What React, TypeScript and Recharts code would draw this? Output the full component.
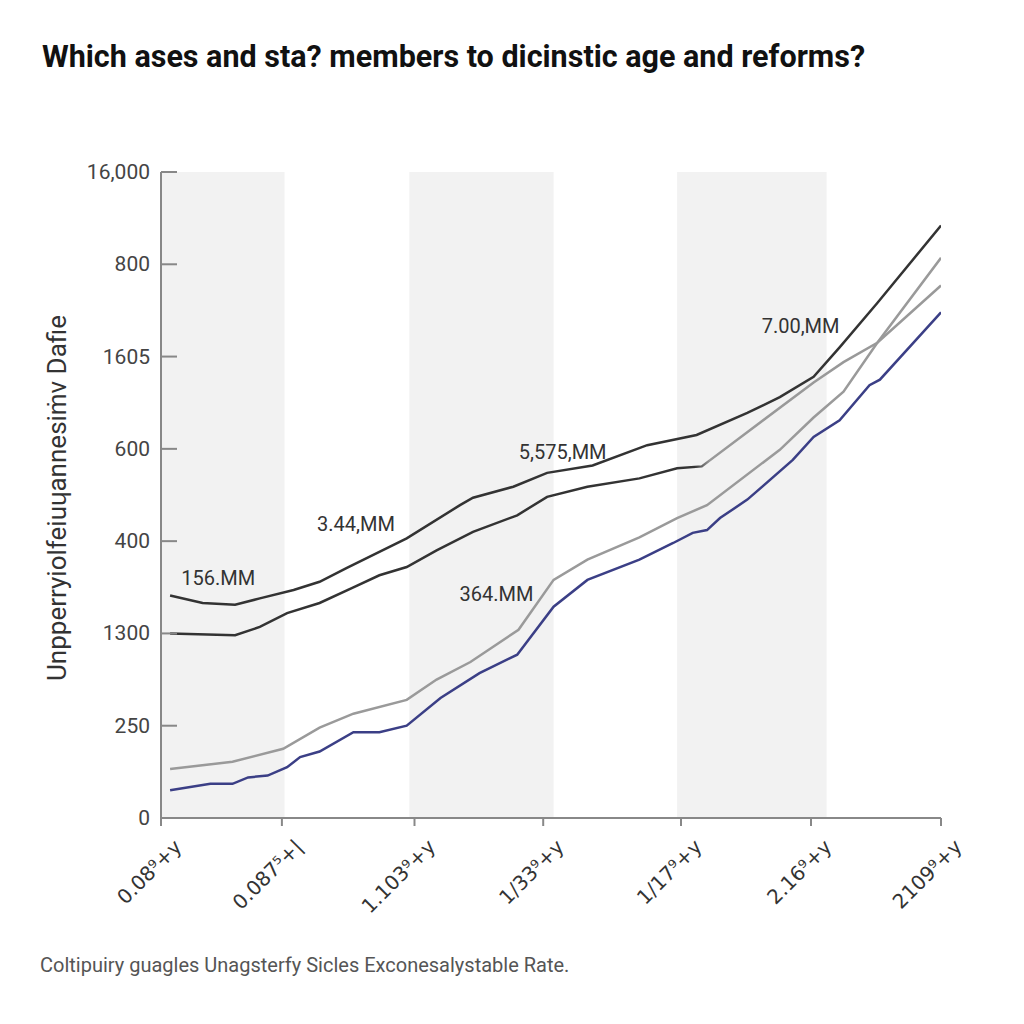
import React from "react";
import {
  Line,
  LineChart,
  ReferenceArea,
  ReferenceDot,
  XAxis,
  YAxis,
} from "recharts";

const TITLE = "Which ases and sta? members to dicinstic age and reforms?";
const Y_TITLE = "Unpperryiolfeiuɥannesiṁv Dafie";
const FOOTER = "Coltipuiry guagles Unagsterfy Sicles Exconesalystable Rate.";

// y ticks are evenly spaced; labels as printed
const Y_TICKS = [0, 1, 2, 3, 4, 5, 6, 7];
const Y_LABELS = ["0", "250", "1300", "400", "600", "1605", "800", "16,000"];

const X_TICKS = [0, 0.93, 1.95, 2.94, 4.0, 5.0, 6.0];
const X_LABELS = ["0.08⁹+y", "0.087⁵+|", "1.103⁹+y", "1/33⁹+y", "1/17⁹+y", "2.16⁹+y", "2109⁹+y"];

const BANDS = [
  [0, 0.95],
  [1.91, 3.02],
  [3.97, 5.12],
];

const A_X = [0.07, 0.32, 0.57, 0.76, 1.02, 1.22, 1.43, 1.89, 2.3, 2.4, 2.71, 2.97, 3.32, 3.74, 4.12, 4.51, 4.76, 5.02, 5.22, 5.51, 6.0];
const A_Y = [2.41, 2.33, 2.31, 2.38, 2.47, 2.56, 2.71, 3.03, 3.39, 3.47, 3.59, 3.74, 3.82, 4.04, 4.15, 4.39, 4.56, 4.78, 5.1, 5.58, 6.42];

const B_X = [0.07, 0.57, 0.76, 0.97, 1.22, 1.48, 1.68, 1.89, 2.12, 2.4, 2.74, 2.97, 3.28, 3.68, 3.97, 4.16, 5.02, 5.25, 5.51, 6.0];
const B_Y = [2.0, 1.98, 2.07, 2.22, 2.33, 2.5, 2.63, 2.72, 2.9, 3.1, 3.28, 3.48, 3.59, 3.68, 3.79, 3.81, 4.72, 4.94, 5.15, 5.77];

const C_X = [0.07, 0.55, 0.94, 1.22, 1.48, 1.89, 2.12, 2.38, 2.75, 3.02, 3.28, 3.68, 3.97, 4.2, 4.76, 5.02, 5.25, 5.51, 6.0];
const C_Y = [0.53, 0.61, 0.75, 0.98, 1.13, 1.28, 1.5, 1.69, 2.04, 2.58, 2.8, 3.04, 3.25, 3.39, 3.99, 4.34, 4.62, 5.15, 6.07];

const D_X = [0.07, 0.38, 0.55, 0.67, 0.82, 0.97, 1.07, 1.22, 1.48, 1.68, 1.89, 2.15, 2.45, 2.74, 3.02, 3.28, 3.68, 3.94, 4.09, 4.2, 4.3, 4.51, 4.86, 5.02, 5.22, 5.45, 5.53, 6.0];
const D_Y = [0.3, 0.37, 0.37, 0.44, 0.46, 0.55, 0.66, 0.72, 0.93, 0.93, 1.0, 1.3, 1.57, 1.77, 2.29, 2.58, 2.8, 2.98, 3.09, 3.12, 3.25, 3.45, 3.88, 4.13, 4.31, 4.69, 4.75, 5.48];

const NOTE_TEXT = ["156.MM", "3.44,MM", "5,575,MM", "364.MM", "7.00,MM"];
const NOTE_X = [0.44, 1.5, 3.09, 2.58, 4.92];
const NOTE_Y = [2.6, 3.19, 3.97, 2.43, 5.33];

const FONT = "Roboto, 'Liberation Sans', sans-serif";

function pts(xs: number[], ys: number[]) {
  return xs.map((x, i) => ({ x, y: ys[i] }));
}

function YTick(props: any) {
  const { x, y, payload } = props;
  return (
    <g>
      <line x1={x + 11} x2={x + 27} y1={y} y2={y} stroke="#888" strokeWidth={2} />
      <text x={x} y={y} dy={7} textAnchor="end" fontSize={21} fill="#444" fontFamily={FONT}>
        {Y_LABELS[Y_TICKS.indexOf(payload.value)]}
      </text>
    </g>
  );
}

function XTick(props: any) {
  const { x, y, payload } = props;
  const i = X_TICKS.indexOf(payload.value);
  const ax = x + 22;
  const ay = y + 20;
  return (
    <text
      x={ax}
      y={ay}
      textAnchor="end"
      fontSize={20}
      fill="#333"
      fontFamily="'DejaVu Sans', sans-serif"
      transform={`rotate(-45, ${ax}, ${ay})`}
    >
      {X_LABELS[i]}
    </text>
  );
}

export default function App() {
  return (
    <div style={{ position: "relative", width: 1008, height: 1008, background: "#fff", fontFamily: FONT }}>
      <div
        style={{
          position: "absolute",
          left: 34,
          top: 34,
          fontSize: 30.5,
          fontWeight: 700,
          color: "#111",
          lineHeight: 1,
          whiteSpace: "nowrap",
        }}
      >
        {TITLE}
      </div>
      <div
        style={{
          position: "absolute",
          left: 49,
          top: 490,
          transform: "translate(-50%, -50%) rotate(-90deg)",
          fontSize: 26,
          color: "#333",
          whiteSpace: "nowrap",
          lineHeight: 1,
        }}
      >
        {Y_TITLE}
      </div>
      <LineChart
        width={1000}
        height={1000}
        margin={{ top: 164, right: 67, bottom: 110, left: 0 }}
      >
        <defs>
          <linearGradient id="bGrad" x1="0" y1="0" x2="1" y2="0">
            <stop offset="0.68" stopColor="#333" />
            <stop offset="0.7" stopColor="#999" />
          </linearGradient>
        </defs>
        {BANDS.map(([a, b], i) => (
          <ReferenceArea key={i} x1={a} x2={b} y1={0} y2={7} fill="#f2f2f2" fillOpacity={1} stroke="none" />
        ))}
        <XAxis
          type="number"
          dataKey="x"
          domain={[0, 6]}
          ticks={X_TICKS}
          height={80}
          axisLine={{ stroke: "#888", strokeWidth: 2 }}
          tickLine={{ stroke: "#888", strokeWidth: 2 }}
          tickSize={8}
          tickMargin={2}
          tick={<XTick />}
          allowDataOverflow
        />
        <YAxis
          type="number"
          dataKey="y"
          domain={[0, 7]}
          ticks={Y_TICKS}
          width={153}
          axisLine={{ stroke: "#888", strokeWidth: 2 }}
          tickLine={false}
          tickSize={0}
          tickMargin={11}
          tick={<YTick />}
          allowDataOverflow
        />
        <Line data={pts(C_X, C_Y)} dataKey="y" type="linear" stroke="#9a9a9a" strokeWidth={2.5} dot={false} isAnimationActive={false} />
        <Line data={pts(D_X, D_Y)} dataKey="y" type="linear" stroke="#3b3f86" strokeWidth={2.5} dot={false} isAnimationActive={false} />
        <Line data={pts(B_X, B_Y)} dataKey="y" type="linear" stroke="url(#bGrad)" strokeWidth={2.5} dot={false} isAnimationActive={false} />
        <Line data={pts(A_X, A_Y)} dataKey="y" type="linear" stroke="#333" strokeWidth={2.5} dot={false} isAnimationActive={false} />
        {NOTE_TEXT.map((t, i) => (
          <ReferenceDot
            key={t}
            x={NOTE_X[i]}
            y={NOTE_Y[i]}
            r={0}
            fill="none"
            stroke="none"
            label={{ value: t, position: "center", fill: "#333", fontSize: 20, fontFamily: FONT }}
          />
        ))}
      </LineChart>
      <div
        style={{
          position: "absolute",
          left: 32,
          top: 947,
          fontSize: 20,
          color: "#555",
          whiteSpace: "nowrap",
          lineHeight: 1,
        }}
      >
        {FOOTER}
      </div>
    </div>
  );
}
